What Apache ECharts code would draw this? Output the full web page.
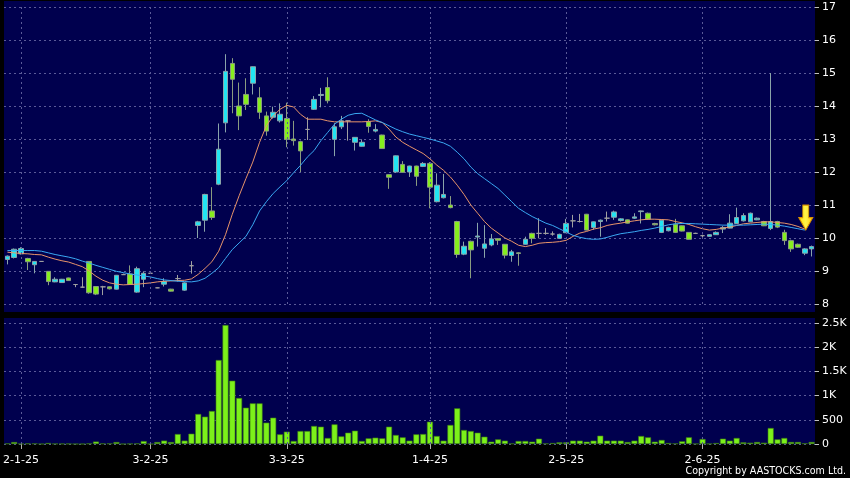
<!DOCTYPE html>
<html><head><meta charset="utf-8">
<script src="https://cdn.jsdelivr.net/npm/echarts@6/dist/echarts.min.js"></script>
<style>html,body{margin:0;padding:0;background:#000;}#c{width:850px;height:478px;}</style>
</head><body><div id="c"></div>
<script>
const dates = [
'30-12-24','31-12-24',
'2-1-25','3-1-25','6-1-25','7-1-25','8-1-25','9-1-25','10-1-25','13-1-25','14-1-25','15-1-25','16-1-25','17-1-25','20-1-25','21-1-25','22-1-25','23-1-25','24-1-25','27-1-25','28-1-25',
'3-2-25','4-2-25','5-2-25','6-2-25','7-2-25','10-2-25','11-2-25','12-2-25','13-2-25','14-2-25','17-2-25','18-2-25','19-2-25','20-2-25','21-2-25','24-2-25','25-2-25','26-2-25','27-2-25','28-2-25',
'3-3-25','4-3-25','5-3-25','6-3-25','7-3-25','10-3-25','11-3-25','12-3-25','13-3-25','14-3-25','17-3-25','18-3-25','19-3-25','20-3-25','21-3-25','24-3-25','25-3-25','26-3-25','27-3-25','28-3-25','31-3-25',
'1-4-25','2-4-25','3-4-25','4-4-25','7-4-25','8-4-25','9-4-25','10-4-25','11-4-25','14-4-25','15-4-25','16-4-25','17-4-25','22-4-25','23-4-25','24-4-25','25-4-25','28-4-25','29-4-25','30-4-25',
'2-5-25','6-5-25','7-5-25','8-5-25','9-5-25','12-5-25','13-5-25','14-5-25','15-5-25','16-5-25','19-5-25','20-5-25','21-5-25','22-5-25','23-5-25','26-5-25','27-5-25','28-5-25','29-5-25','30-5-25',
'2-6-25','3-6-25','4-6-25','5-6-25','6-6-25','9-6-25','10-6-25','11-6-25','12-6-25','13-6-25','16-6-25','17-6-25','18-6-25','19-6-25','20-6-25','23-6-25','24-6-25'
];
const opens = [9.35,9.41,9.52,9.38,9.19,9.29,8.99,8.67,8.65,8.79,8.59,8.51,9.29,8.53,8.52,8.52,8.45,8.89,8.91,8.36,8.75,8.93,8.49,8.60,8.45,8.77,8.42,9.16,10.38,10.54,10.82,11.63,13.49,15.29,14.0,14.35,14.69,14.25,13.70,13.66,13.55,13.62,13.0,12.92,13.29,13.9,14.32,14.56,12.99,13.37,13.55,12.90,12.78,13.52,13.24,13.12,11.92,12.0,12.23,12.0,12.18,12.17,12.26,11.1,11.22,11.0,10.5,9.51,9.9,10.03,9.69,9.79,9.98,9.81,9.47,9.55,9.81,10.14,10.14,10.14,10.12,9.99,10.16,10.52,10.5,10.72,10.32,10.5,10.6,10.63,10.53,10.55,10.6,10.8,10.75,10.44,10.17,10.22,10.42,10.37,10.17,10.14,10.07,10.05,10.1,10.27,10.3,10.44,10.52,10.49,10.55,10.5,10.29,10.5,10.17,9.92,9.81,9.54,9.67];
const closes = [9.45,9.66,9.68,9.28,9.29,9.29,8.68,8.75,8.75,8.71,8.59,8.51,8.34,8.30,8.52,8.46,8.87,8.89,8.59,9.07,8.93,8.93,8.49,8.68,8.39,8.77,8.64,9.16,10.49,11.32,10.62,12.69,15.05,14.81,13.7,14.05,15.19,13.81,13.24,13.81,13.75,12.99,12.95,12.64,13.29,14.2,14.35,14.16,13.37,13.55,13.55,13.05,12.90,13.38,13.29,12.71,11.84,12.49,11.99,12.18,11.87,12.26,11.54,11.6,11.32,10.92,9.5,9.75,9.64,10.06,9.82,9.97,9.93,9.48,9.58,9.53,9.96,9.99,10.14,10.14,10.12,10.11,10.44,10.52,10.5,10.24,10.49,10.54,10.6,10.79,10.58,10.45,10.64,10.82,10.57,10.40,10.54,10.32,10.17,10.21,9.96,10.14,10.07,10.1,10.17,10.32,10.45,10.62,10.68,10.75,10.6,10.37,10.5,10.33,9.92,9.67,9.72,9.67,9.74];
const lows = [9.2,9.38,9.5,9.03,8.93,9.28,8.57,8.66,8.64,8.7,8.51,8.5,8.31,8.27,8.27,8.44,8.44,8.88,8.58,8.34,8.51,8.93,8.48,8.53,8.38,8.68,8.40,8.92,10.0,10.19,10.55,11.6,13.2,13.78,13.27,13.88,14.35,13.61,13.1,13.62,13.5,12.75,12.8,12.0,12.97,13.88,13.96,14.08,12.48,13.3,12.95,12.65,12.77,13.19,13.2,12.70,11.49,11.97,11.98,11.85,11.58,12.15,10.9,11.08,11.2,10.9,9.4,9.48,8.78,9.74,9.4,9.75,9.79,9.38,9.28,9.16,9.8,9.84,9.99,10.1,10.07,9.98,10.15,10.32,10.47,10.23,10.25,10.04,10.5,10.55,10.5,10.44,10.58,10.44,10.55,10.38,10.15,10.2,10.15,10.2,9.95,10.12,10.0,10.04,10.09,10.15,10.29,10.43,10.5,10.48,10.54,10.36,10.24,10.3,9.79,9.58,9.7,9.48,9.44];
const highs = [9.47,9.68,9.72,9.4,9.3,9.3,9.0,8.81,8.76,8.8,8.6,8.81,9.3,8.54,8.55,8.53,8.88,8.92,9.17,9.13,8.99,8.93,8.5,8.78,8.46,8.88,8.66,9.30,10.52,11.34,11.54,13.47,15.57,15.45,14.71,14.84,15.2,14.57,13.83,13.98,14.08,14.1,13.55,12.95,13.66,14.3,14.55,14.87,13.48,13.7,13.56,13.06,12.99,13.6,13.45,13.13,11.93,12.5,12.33,12.19,12.19,12.3,12.3,11.96,11.94,11.27,10.52,9.89,9.92,10.46,10.39,10.12,10.0,9.82,9.64,9.57,10.04,10.16,10.6,10.3,10.2,10.13,10.58,10.7,10.73,10.73,10.5,10.56,10.8,10.83,10.6,10.56,10.75,10.83,10.77,10.46,10.56,10.34,10.58,10.38,10.18,10.16,10.1,10.11,10.2,10.36,10.72,10.92,10.75,10.77,10.62,10.52,15.0,10.52,10.25,9.95,9.83,9.69,9.77];
const volumes = [10,40,5,10,10,0,20,5,5,5,0,0,10,50,10,10,40,0,5,10,60,0,40,70,40,206,70,213,620,565,682,1735,2458,1308,950,750,840,840,441,544,200,255,62,268,268,372,358,124,406,158,234,275,62,117,131,117,358,186,138,69,200,206,461,165,69,393,737,289,268,234,151,48,96,69,10,62,62,48,110,10,20,34,34,69,69,48,69,172,69,69,69,41,69,165,138,48,83,20,10,55,138,5,103,5,20,110,69,124,34,27,41,27,330,96,124,41,41,14,41];
const maShort = [9.57,9.55,9.53,9.52,9.5,9.49,9.42,9.36,9.31,9.27,9.2,9.13,9.0,8.84,8.72,8.64,8.6,8.58,8.59,8.6,8.62,8.64,8.67,8.69,8.7,8.71,8.72,8.76,8.9,9.08,9.28,9.6,10.1,10.72,11.28,11.8,12.3,12.9,13.4,13.7,13.9,14.02,13.97,13.75,13.6,13.6,13.6,13.55,13.52,13.52,13.52,13.52,13.52,13.53,13.55,13.5,13.3,13.06,12.9,12.78,12.67,12.56,12.4,12.21,12.05,11.85,11.6,11.32,11.0,10.75,10.5,10.3,10.15,10.0,9.9,9.78,9.74,9.78,9.84,9.86,9.87,9.89,9.93,10.05,10.15,10.2,10.27,10.31,10.38,10.42,10.45,10.49,10.52,10.55,10.57,10.57,10.56,10.55,10.5,10.46,10.41,10.34,10.28,10.24,10.26,10.3,10.33,10.38,10.43,10.45,10.47,10.49,10.49,10.47,10.45,10.41,10.35,10.27,null];
const maLong = [9.62,9.62,9.62,9.62,9.62,9.6,9.55,9.5,9.46,9.42,9.37,9.3,9.24,9.17,9.11,9.05,8.99,8.95,8.91,8.88,8.85,8.82,8.77,8.73,8.71,8.69,8.68,8.67,8.7,8.78,8.93,9.1,9.38,9.65,9.85,10.05,10.4,10.82,11.1,11.35,11.55,11.74,11.98,12.2,12.45,12.65,12.95,13.2,13.45,13.6,13.72,13.77,13.78,13.68,13.58,13.5,13.4,13.3,13.22,13.15,13.1,13.05,13.0,12.94,12.88,12.78,12.6,12.4,12.15,11.95,11.8,11.65,11.5,11.3,11.1,10.9,10.77,10.65,10.55,10.45,10.38,10.28,10.18,10.08,10.02,9.98,9.96,9.97,10.02,10.08,10.13,10.16,10.19,10.23,10.26,10.3,10.35,10.4,10.43,10.44,10.44,10.43,10.42,10.41,10.4,10.39,10.39,10.39,10.39,10.4,10.41,10.42,10.41,10.39,10.36,10.32,10.28,10.24,null];
const monthLabels = ['2-1-25','3-2-25','3-3-25','1-4-25','2-5-25','2-6-25'];
const priceTicks = [8,17,1];
const volTicks = [0,2500,500];

const FONT = "'DejaVu Sans', sans-serif";
const GRIDC = '#5a5a98';
const isMonth = (i, v) => monthLabels.indexOf(v) >= 0;
const vlines = monthLabels.map(d => ({xAxis: d}));
const chart = echarts.init(document.getElementById('c'), null, {renderer: 'canvas', width: 850, height: 478});
const lastIdx = 117;
chart.setOption({
  backgroundColor: '#000000',
  animation: false,
  graphic: [
    {type: 'rect', z: -10, silent: true, shape: {x: 4, y: 1, width: 811, height: 311}, style: {fill: '#00004e'}},
    {type: 'rect', z: -10, silent: true, shape: {x: 4, y: 318, width: 811, height: 126}, style: {fill: '#00004e'}},
    {type: 'text', right: 4, bottom: 1, silent: true, style: {text: 'Copyright by AASTOCKS.com Ltd.', fill: '#ffffff', font: "10.6px 'DejaVu Sans Condensed', 'DejaVu Sans', sans-serif"}}
  ],
  grid: [
    {left: 4, right: 35, top: 7, height: 297},
    {left: 4, right: 35, top: 323, height: 121}
  ],
  xAxis: [
    {type: 'category', gridIndex: 0, data: dates, boundaryGap: true,
     axisLine: {show: false}, axisTick: {show: false}, axisLabel: {show: false}, splitLine: {show: false}},
    {type: 'category', gridIndex: 1, data: dates, boundaryGap: true,
     axisLine: {show: false},
     axisTick: {show: true, alignWithLabel: true, interval: isMonth, length: 5, lineStyle: {color: '#b0b0b0'}},
     axisLabel: {interval: isMonth, color: '#ffffff', fontSize: 11, fontFamily: FONT, margin: 11},
     splitLine: {show: false}}
  ],
  yAxis: [
    {type: 'value', gridIndex: 0, position: 'right', min: priceTicks[0], max: priceTicks[1], interval: priceTicks[2],
     axisLine: {show: false}, axisTick: {show: true, length: 4, lineStyle: {color: '#c0c0c0'}},
     axisLabel: {color: '#ffffff', fontSize: 11, fontFamily: FONT, margin: 7},
     splitLine: {show: true, lineStyle: {color: GRIDC, type: [2, 3], width: 1}}},
    {type: 'value', gridIndex: 1, position: 'right', min: volTicks[0], max: volTicks[1], interval: volTicks[2],
     axisLine: {show: false}, axisTick: {show: true, length: 4, lineStyle: {color: '#c0c0c0'}},
     axisLabel: {color: '#ffffff', fontSize: 11, fontFamily: FONT, margin: 7,
       formatter: v => v >= 1000 ? (v / 1000) + 'K' : String(v)},
     splitLine: {show: true, lineStyle: {color: GRIDC, type: [2, 3], width: 1}}}
  ],
  series: [
    {type: 'candlestick', xAxisIndex: 0, yAxisIndex: 0, barWidth: 5,
     data: dates.map((d, i) => [opens[i], closes[i], lows[i], highs[i]]),
     itemStyle: {color: '#22e4f2', color0: '#86ee1e', borderColor: '#8aa4aa', borderColor0: '#8a9c80', borderColorDoji: '#a0a0a0', borderWidth: 1},
     markLine: {silent: true, symbol: 'none', label: {show: false}, animation: false,
       lineStyle: {color: GRIDC, type: [2, 3], width: 1}, data: vlines},
     markPoint: {silent: true, animation: false,
       data: [{coord: [dates[lastIdx], maLong[lastIdx]], symbol: 'path://M4,0 L10,0 L10,12 L14,12 L7,24 L0,12 L4,12 Z',
         symbolSize: [14, 25], symbolOffset: [1, -12.5], symbolKeepAspect: false,
         itemStyle: {color: new echarts.graphic.LinearGradient(0, 0, 1, 0, [{offset: 0, color: '#ffe000'}, {offset: 0.5, color: '#fff34a'}, {offset: 1, color: '#ffc800'}]), borderColor: '#d89000', borderWidth: 1},
         label: {show: false}}]}},
    {type: 'line', xAxisIndex: 0, yAxisIndex: 0, data: maShort, symbol: 'none', smooth: false,
     lineStyle: {color: '#e8946a', width: 1}, z: 3},
    {type: 'line', xAxisIndex: 0, yAxisIndex: 0, data: maLong, symbol: 'none', smooth: false,
     lineStyle: {color: '#3aa8f2', width: 1}, z: 3},
    {type: 'bar', xAxisIndex: 1, yAxisIndex: 1, data: volumes, barWidth: 6,
     itemStyle: {color: '#7cf01a', borderColor: '#3c7c12', borderWidth: 0.6},
     markLine: {silent: true, symbol: 'none', label: {show: false}, animation: false,
       lineStyle: {color: GRIDC, type: [2, 3], width: 1}, data: vlines}}
  ]
});
</script></body></html>
